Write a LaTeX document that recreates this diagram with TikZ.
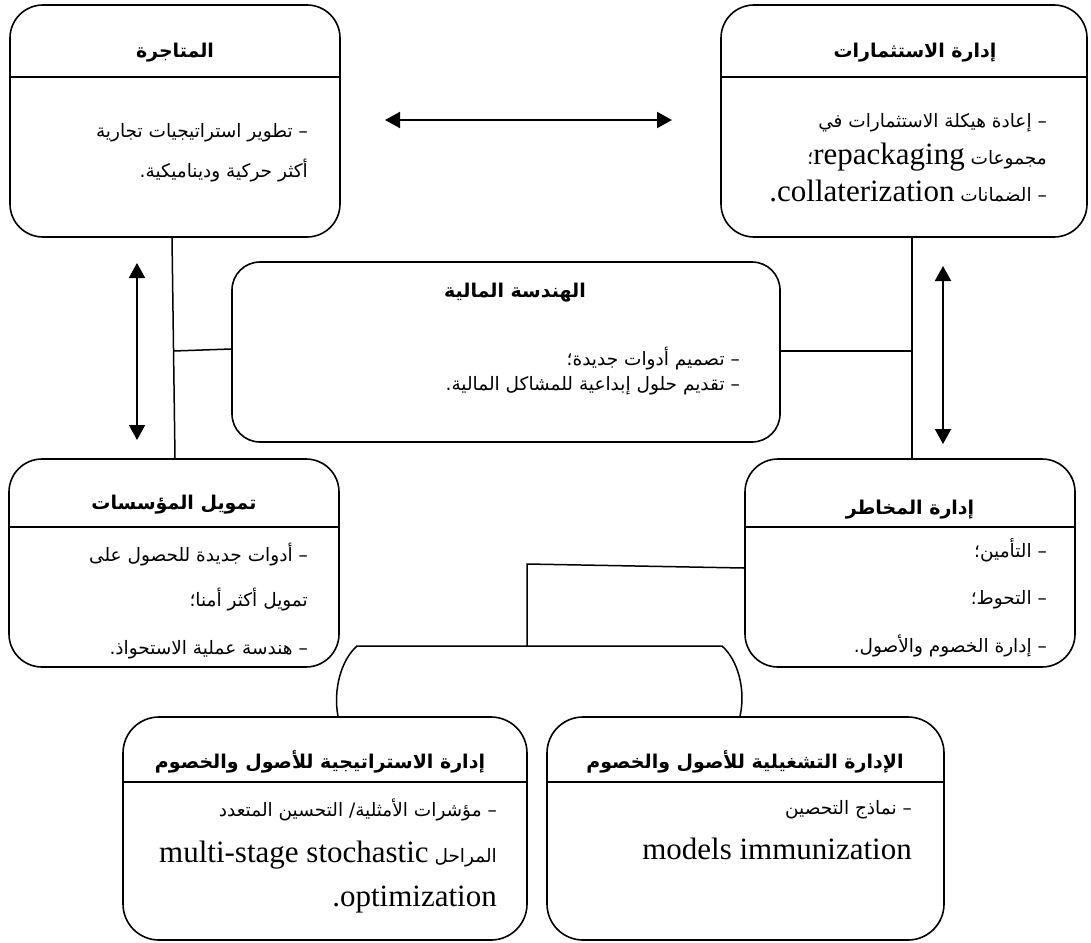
\documentclass[tikz,border=0pt]{standalone}
\usepackage{fontspec}
\setmainfont{Liberation Serif}
\newfontfamily\arabicfont[Script=Arabic]{DejaVu Sans}
\newfontfamily\latinfont{Liberation Serif}
\TeXXeTstate=1
\usetikzlibrary{arrows.meta}

% right-to-left run, and a left-to-right Latin run inside it
\newcommand\rtltext[1]{\beginR #1\endR}
\newcommand\latsz{\latinfont\fontsize{31}{35}\selectfont}
\newcommand\ltr[1]{\beginL{\latsz #1}\endL}

\tikzset{
  panel/.style={draw, line width=1.6pt, rounded corners=33pt, inner sep=0pt},
  divider/.style={line width=1.6pt},
  ttl/.style={font=\arabicfont\bfseries\fontsize{19}{22}\selectfont, inner sep=0pt},
  txt/.style={font=\arabicfont\fontsize{18.5}{22}\selectfont, inner sep=0pt,
              anchor=east, text height=14pt, text depth=6pt},
  link/.style={line width=1.5pt},
  dbl/.style={line width=2pt,
              {Triangle[length=15pt,width=16pt]}-{Triangle[length=15pt,width=16pt]}},
}

\begin{document}
\begin{tikzpicture}[x=1pt,y=-1pt]
\useasboundingbox (0,0) rectangle (1091,942);

% ---- panels ----
\node[panel, minimum width=330pt, minimum height=232pt] (trade)  at (175,121) {};
\node[panel, minimum width=366pt, minimum height=232pt] (invest) at (904,121) {};
\node[panel, rounded corners=28pt, minimum width=548pt, minimum height=180pt] (fineng) at (506,352) {};
\node[panel, minimum width=330pt, minimum height=208pt] (corp)   at (174,563) {};
\node[panel, minimum width=330pt, minimum height=208pt] (risk)   at (910,563) {};
\node[panel, rounded corners=36pt, minimum width=404pt, minimum height=223pt] (strat)  at (325,828.5) {};
\node[panel, rounded corners=36pt, minimum width=397pt, minimum height=223pt] (oper)   at (745.5,828.5) {};

% ---- header dividers ----
\draw[divider] (trade.west |- 0,77)   -- (trade.east |- 0,77);
\draw[divider] (invest.west |- 0,77)  -- (invest.east |- 0,77);
\draw[divider] (corp.west |- 0,527)   -- (corp.east |- 0,527);
\draw[divider] (risk.west |- 0,527)   -- (risk.east |- 0,527);
\draw[divider] (strat.west |- 0,782)  -- (strat.east |- 0,782);
\draw[divider] (oper.west |- 0,782)   -- (oper.east |- 0,782);

% ---- titles ----
\node[ttl] (trade-t)  at (175,53)  {\rtltext{المتاجرة}};
\node[ttl] (invest-t) at (915,53)  {\rtltext{إدارة الاستثمارات}};
\node[ttl] (fineng-t) at (515,293) {\rtltext{الهندسة المالية}};
\node[ttl] (corp-t)   at (174,505) {\rtltext{تمويل المؤسسات}};
\node[ttl] (risk-t)   at (910,510) {\rtltext{إدارة المخاطر}};
\node[ttl] (strat-t)  at (320,762) {\rtltext{إدارة الاستراتيجية للأصول والخصوم}};
\node[ttl] (oper-t)   at (745,762) {\rtltext{الإدارة التشغيلية للأصول والخصوم}};

% ---- body lines ----
\node[txt] (trade-1) at (308,133) {\rtltext{– تطوير استراتيجيات تجارية}};
\node[txt] (trade-2) at (308,173) {\rtltext{أكثر حركية وديناميكية.}};

\node[txt] (invest-1) at (1047,123) {\rtltext{– إعادة هيكلة الاستثمارات في}};
\node[txt] (invest-2) at (1047,160) {\rtltext{مجموعات \ltr{repackaging}؛}};
\node[txt] (invest-3) at (1047,197) {\rtltext{– الضمانات \ltr{collaterization}{\latsz .}}};

\node[txt] (fineng-1) at (740,361) {\rtltext{– تصميم أدوات جديدة؛}};
\node[txt] (fineng-2) at (740,386) {\rtltext{– تقديم حلول إبداعية للمشاكل المالية.}};

\node[txt] (corp-1) at (308,557) {\rtltext{– أدوات جديدة للحصول على}};
\node[txt] (corp-2) at (308,602) {\rtltext{تمويل أكثر أمنا؛}};
\node[txt] (corp-3) at (308,650) {\rtltext{– هندسة عملية الاستحواذ.}};

\node[txt] (risk-1) at (1047,553) {\rtltext{– التأمين؛}};
\node[txt] (risk-2) at (1047,600) {\rtltext{– التحوط؛}};
\node[txt] (risk-3) at (1047,648) {\rtltext{– إدارة الخصوم والأصول.}};

\node[txt] (strat-1) at (497,812) {\rtltext{– مؤشرات الأمثلية/ التحسين المتعدد}};
\node[txt] (strat-2) at (497,858) {\rtltext{المراحل \ltr{multi-stage stochastic}}};
\node[txt] (strat-3) at (497,902) {\rtltext{\ltr{optimization}{\latsz .}}};

\node[txt] (oper-1) at (912,810) {\rtltext{– نماذج التحصين}};
\node[txt] (oper-2) at (912,855) {{\latsz models immunization}};

% ---- double arrows ----
\coordinate (hA) at (385,120);  \coordinate (hB) at (672,120);
\coordinate (lA) at (137,263);  \coordinate (lB) at (137,440);
\coordinate (rA) at (943,266);  \coordinate (rB) at (943,444);
\draw[dbl] (hA) -- (hB);
\draw[dbl] (lA) -- (lB);
\draw[dbl] (rA) -- (rB);

% ---- left spine ----
\coordinate (lj) at (173.5,351);
\draw[link] (trade.south -| 172,0) -- (corp.north -| 175,0);
\draw[link] (lj) -- (fineng.west |- 0,349);

% ---- right spine ----
\coordinate (rj) at (912,351);
\draw[link] (invest.south -| 912,0) -- (risk.north -| 912,0);
\draw[link] (fineng.east |- 0,351) -- (rj);

% ---- link from risk management down to the asset/liability pair ----
\coordinate (bj) at (527,646);
\draw[link] (risk.west |- 0,568) -- (527,564) -- (bj);

% ---- bracket over the two lower panels ----
\draw[link] (strat.north -| 338,0) .. controls (333,690) and (341,660) .. (357,646)
  -- (722,646) .. controls (738,660) and (746,690) .. (oper.north -| 740,0);
\end{tikzpicture}
\end{document}
